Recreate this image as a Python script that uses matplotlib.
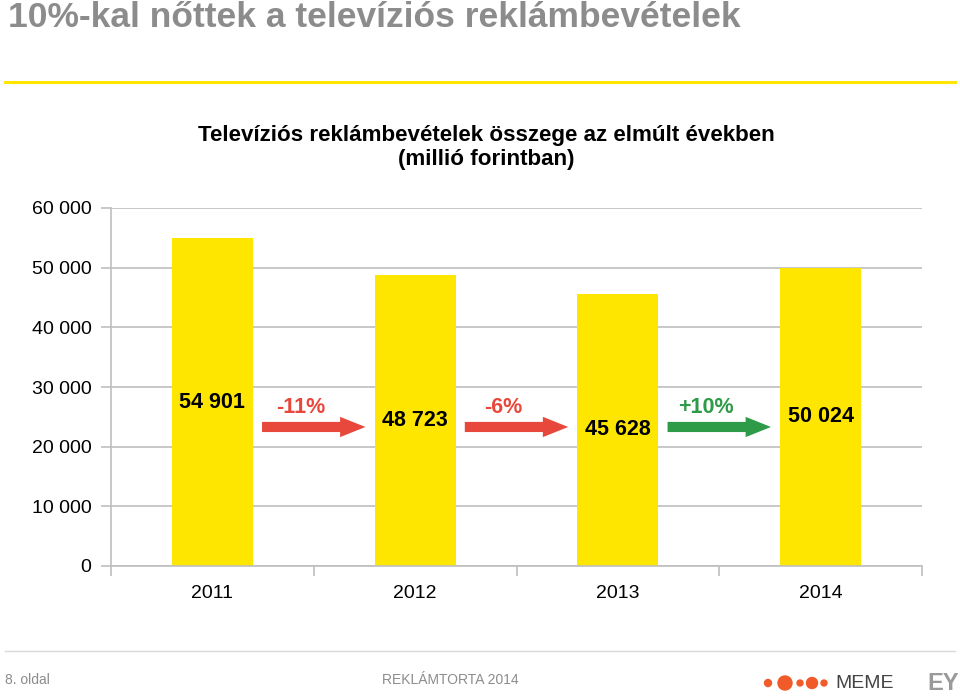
import matplotlib.pyplot as plt
from matplotlib.patches import FancyArrow, Circle
from matplotlib.ticker import FuncFormatter, FixedLocator

years = ['2011', '2012', '2013', '2014']
revenue = [54901, 48723, 45628, 50024]
changes = ['-11%', '-6%', '+10%']
change_colors = ['#E8483B', '#E8483B', '#2E9B48']
yticks = [0, 10000, 20000, 30000, 40000, 50000, 60000]

YELLOW = '#FFE600'
GRID = '#BFBFBF'

plt.rcParams['font.family'] = ['Liberation Sans', 'DejaVu Sans']

fig = plt.figure(figsize=(9.6, 6.97), dpi=100)

# slide header
fig.text(8 / 960, 1 - 27 / 697, '10%-kal nőttek a televíziós reklámbevételek',
         fontweight='bold', fontsize=25.5, color='#8C8C8C', ha='left', va='baseline')
fig.add_artist(plt.Line2D([5 / 960, 955 / 960], [1 - 82 / 697] * 2,
                          color=YELLOW, lw=2.2, transform=fig.transFigure))

# chart title
fig.text(486 / 960, 1 - 135 / 697, 'Televíziós reklámbevételek összege az elmúlt években',
         fontsize=16.1, fontweight='bold', ha='center', va='center')
fig.text(486 / 960, 1 - 160 / 697, '(millió forintban)',
         fontsize=16.1, fontweight='bold', ha='center', va='center')

ax = fig.add_axes([111 / 960, 131 / 697, 811 / 960, 358 / 697])
x = range(len(years))
ax.bar(x, revenue, width=0.4, color=YELLOW, zorder=2)
ax.set_xlim(-0.5, len(years) - 0.5)
ax.set_ylim(0, 60000)
ax.yaxis.set_major_locator(FixedLocator(yticks))
ax.yaxis.set_major_formatter(FuncFormatter(lambda v, p: f'{int(v):,}'.replace(',', ' ')))
ax.grid(axis='y', color=GRID, lw=1.2, zorder=0)
ax.set_xticks(list(x))
ax.set_xticklabels(years, fontsize=14)
ax.set_xticks([i - 0.5 for i in range(len(years) + 1)], minor=True)
ax.tick_params(axis='x', which='major', length=0, pad=14)
ax.tick_params(axis='x', which='minor', length=7, color=GRID, width=1.2)
ax.tick_params(axis='y', length=7, color=GRID, width=1.2, labelsize=14, pad=7)
for s in ['top', 'right']:
    ax.spines[s].set_visible(False)
for s in ['left', 'bottom']:
    ax.spines[s].set_color(GRID)
    ax.spines[s].set_linewidth(1.2)

for i, v in enumerate(revenue):
    ax.text(i, v / 2, f'{v:,}'.replace(',', ' '), ha='center', va='center',
            fontsize=15.5, fontweight='bold', zorder=3)

for i, (lab, col) in enumerate(zip(changes, change_colors)):
    x0 = i + 0.245
    ax.add_patch(FancyArrow(x0, 23300, 0.51, 0, width=1700, head_width=3400,
                            head_length=0.125, length_includes_head=True,
                            color=col, lw=0, zorder=3))
    ax.text(i + 0.435, 26500, lab, ha='center', va='center', fontsize=15.5,
            fontweight='bold', color=col, zorder=3)

# footer
fig.add_artist(plt.Line2D([5 / 960, 955 / 960], [1 - 651 / 697] * 2,
                          color='#D9D9D9', lw=1, transform=fig.transFigure))
fy = 1 - 680 / 697
fig.text(5 / 960, fy, '8. oldal', fontsize=10, color='#8C8C8C', ha='left', va='center')
fig.text(450 / 960, fy, 'REKLÁMTORTA 2014', fontsize=10, color='#8C8C8C',
         ha='center', va='center')
for cx, r in [(768, 3.5), (785, 7), (800, 3), (812, 5.5), (824, 3)]:
    fig.add_artist(Circle((cx, 697 - 683), r, color='#F15A29',
                          transform=None))
fig.text(835 / 960, 1 - 683 / 697, 'MEME', fontsize=14, color='#444444',
         ha='left', va='center')
fig.text(927 / 960, 1 - 683 / 697, 'EY', fontsize=17, fontweight='bold',
         color='#9A9A9A', ha='left', va='center')

fig.savefig('out.png', dpi=100)
